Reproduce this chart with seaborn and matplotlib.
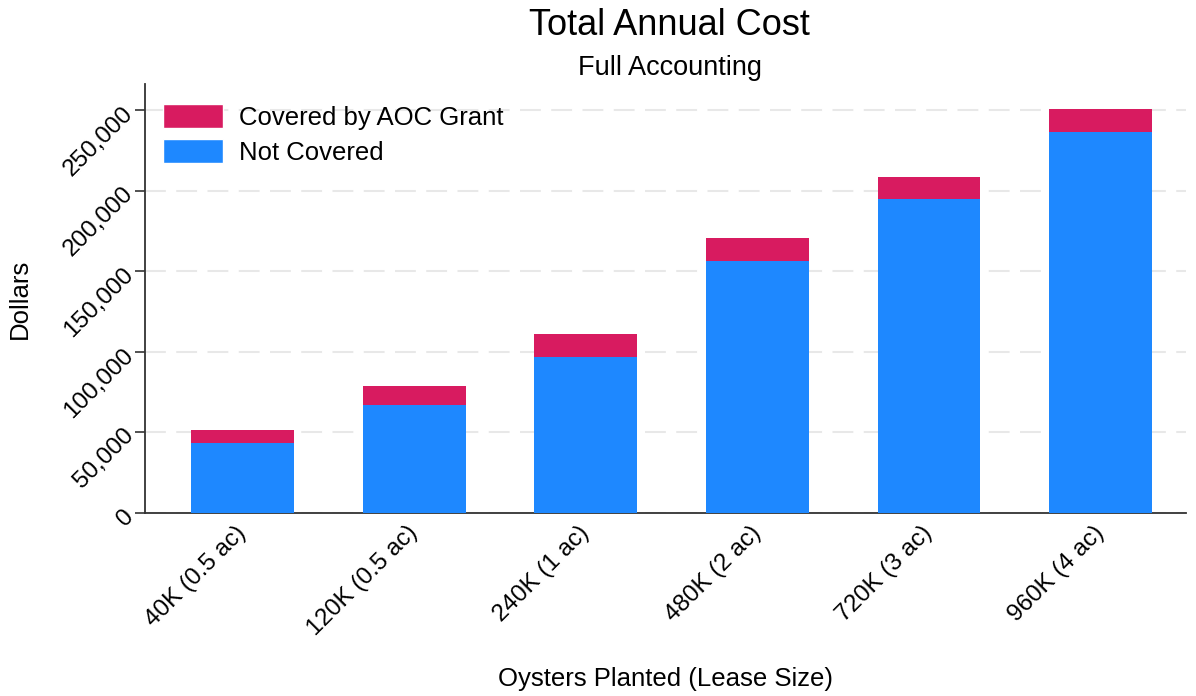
import numpy as np
import pandas as pd
import matplotlib.pyplot as plt
import seaborn as sns
from matplotlib.patches import Patch
from matplotlib.ticker import FuncFormatter

sns.set_theme(style='white')
plt.rcParams['font.family'] = ['Liberation Sans', 'DejaVu Sans']
plt.rcParams['text.color'] = 'black'
plt.rcParams['axes.labelcolor'] = 'black'
plt.rcParams['xtick.color'] = 'black'
plt.rcParams['ytick.color'] = 'black'

# data
lease_sizes = ['40K (0.5 ac)', '120K (0.5 ac)', '240K (1 ac)',
               '480K (2 ac)', '720K (3 ac)', '960K (4 ac)']
not_covered = [43500, 66900, 96900, 156300, 194700, 236300]
covered_by_grant = [7900, 12000, 14100, 14300, 14000, 14300]

RED = '#D81B60'
BLUE = '#1E88FF'

df = pd.DataFrame({
    'lease': lease_sizes,
    'not_covered': not_covered,
    'covered': covered_by_grant,
})
df['total'] = df['not_covered'] + df['covered']

fig = plt.figure(figsize=(11.96, 6.96), dpi=100)
ax = fig.add_axes([0.121, 0.263, 0.871, 0.616])

sns.barplot(data=df, x='lease', y='total', color=RED, saturation=1,
            width=0.6, linewidth=0, ax=ax, zorder=2)
sns.barplot(data=df, x='lease', y='not_covered', color=BLUE, saturation=1,
            width=0.6, linewidth=0, ax=ax, zorder=3)

ax.set_xlim(-0.57, 5.5)
ax.set_ylim(0, 266000)
ax.set_yticks(np.arange(0, 250001, 50000))
ax.yaxis.set_major_formatter(FuncFormatter(lambda v, p: f'{v:,.0f}'))

ax.grid(axis='y', color='#e8e8e8', linestyle=(0, (10, 5)), linewidth=1.5, zorder=0)
ax.set_axisbelow(True)

for s in ['top', 'right']:
    ax.spines[s].set_visible(False)
for s in ['left', 'bottom']:
    ax.spines[s].set_color('#333333')
    ax.spines[s].set_linewidth(1.3)

ax.tick_params(axis='y', which='major', left=True, length=7.5, width=1.2,
               color='#333333', labelsize=17.5, pad=3)
ax.tick_params(axis='x', which='major', bottom=False, labelsize=17.5, pad=6)

for lbl in ax.get_yticklabels():
    lbl.set_rotation(45)
    lbl.set_ha('right')
    lbl.set_va('center')
    lbl.set_rotation_mode('anchor')
for lbl in ax.get_xticklabels():
    lbl.set_rotation(45)
    lbl.set_ha('right')
    lbl.set_va('center')
    lbl.set_rotation_mode('anchor')

ax.set_xlabel('Oysters Planted (Lease Size)', fontsize=18.5, labelpad=19)
ax.set_ylabel('Dollars', fontsize=18.5, labelpad=20)

fig.text(0.56, 0.964, 'Total Annual Cost', ha='center', va='center', fontsize=26)
fig.text(0.56, 0.902, 'Full Accounting', ha='center', va='center', fontsize=19.5)

handles = [Patch(facecolor=RED, label='Covered by AOC Grant'),
           Patch(facecolor=BLUE, label='Not Covered')]
ax.legend(handles=handles, loc='upper left', frameon=False, fontsize=18.5,
          handlelength=2.35, handleheight=1.05, handletextpad=0.6,
          borderaxespad=0.3, bbox_to_anchor=(0.0, 0.995), labelspacing=0.35)

fig.savefig('out.png', dpi=100)
